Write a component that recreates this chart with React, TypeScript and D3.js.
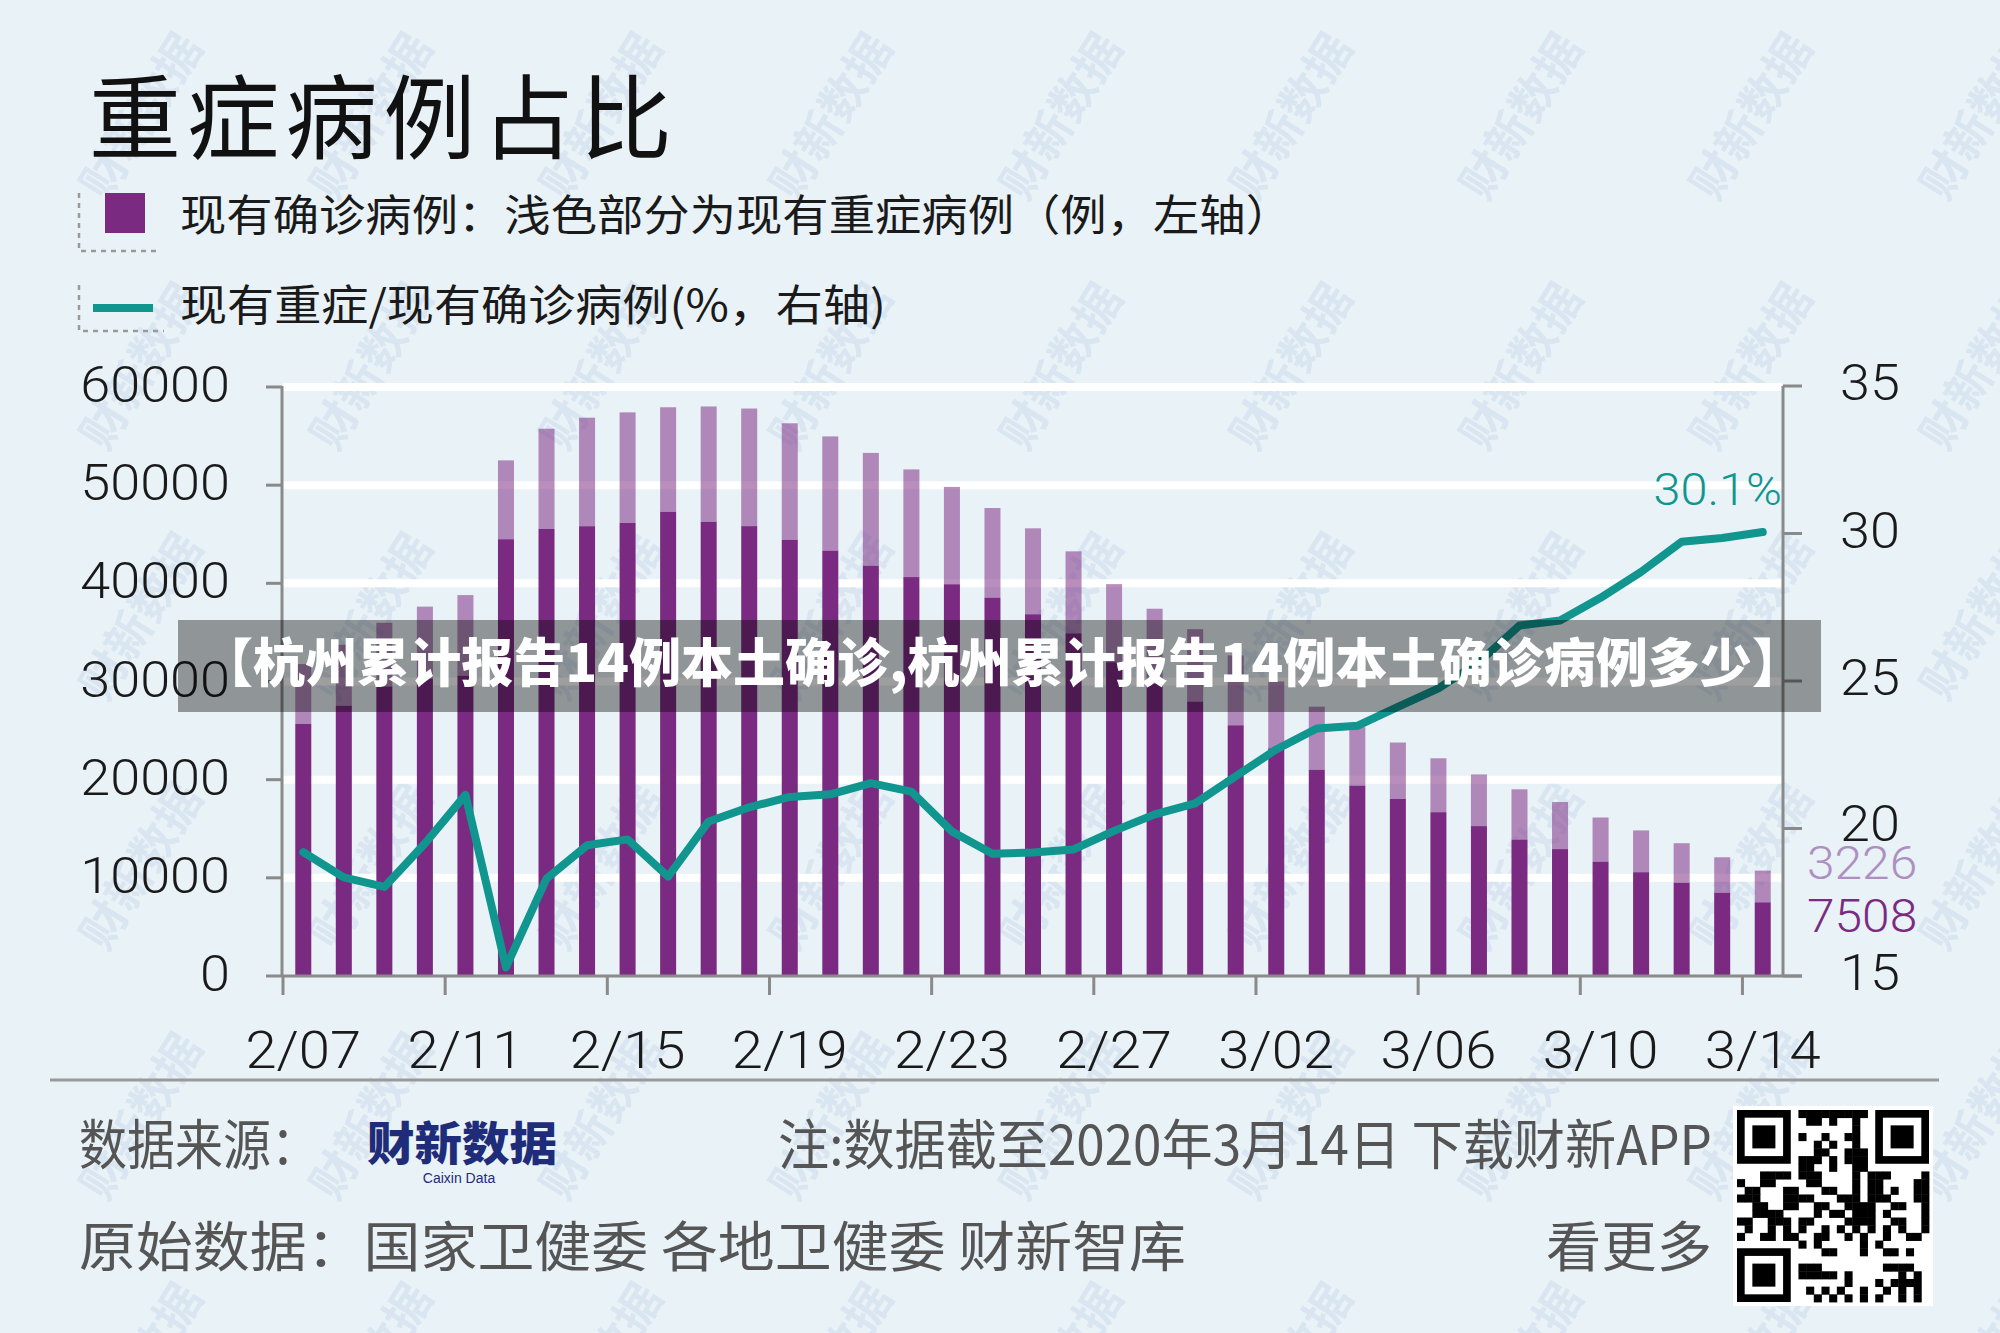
import React from 'react';
import * as d3 from 'd3';

// ---------- data ----------
const dates = [
  '2/07', '2/08', '2/09', '2/10', '2/11', '2/12', '2/13', '2/14', '2/15', '2/16',
  '2/17', '2/18', '2/19', '2/20', '2/21', '2/22', '2/23', '2/24', '2/25', '2/26',
  '2/27', '2/28', '2/29', '3/01', '3/02', '3/03', '3/04', '3/05', '3/06', '3/07',
  '3/08', '3/09', '3/10', '3/11', '3/12', '3/13', '3/14',
];
// 现有确诊病例 (total bar height)
const existing = [
  31774, 33738, 35982, 37626, 38800, 52526, 55748, 56873, 57416, 57934,
  58016, 57805, 56303, 54965, 53284, 51606, 49824, 47672, 45604, 43258,
  39919, 37414, 35329, 32652, 30004, 27433, 25352, 23784, 22177, 20533,
  19016, 17721, 16145, 14831, 13526, 12094, 10734,
];
// 现有重症病例 (light top part)
const severe = [
  6101, 6188, 6484, 7333, 8204, 8030, 10204, 11053, 11272, 10644,
  11741, 11977, 11864, 11633, 11477, 10968, 9915, 9126, 8752, 8346,
  7952, 7664, 7365, 7110, 6806, 6416, 5952, 5737, 5489, 5264,
  5111, 4794, 4492, 4257, 4020, 3610, 3226,
];
// 现有重症/现有确诊病例 (%)
const ratio = [
  19.2, 18.34, 18.02, 19.49, 21.14, 15.29, 18.3, 19.43, 19.63, 18.37,
  20.24, 20.72, 21.07, 21.16, 21.54, 21.25, 19.9, 19.14, 19.19, 19.29,
  19.92, 20.48, 20.85, 21.77, 22.68, 23.39, 23.48, 24.12, 24.75, 25.64,
  26.88, 27.05, 27.82, 28.7, 29.72, 29.85, 30.05,
];
const leftTicks = [0, 10000, 20000, 30000, 40000, 50000, 60000];
const rightTicks = [15, 20, 25, 30, 35];
const xTickLabels = ['2/07', '2/11', '2/15', '2/19', '2/23', '2/27', '3/02', '3/06', '3/10', '3/14'];
const endRatioLabel = '30.1%';

// ---------- style ----------
const W = 2000;
const H = 1333;
const BG = '#e9f2f6';
const DARK = '#7b2a82';
const LIGHT = 'rgba(123,42,130,0.53)';
const LIGHT_TXT = '#ae8fc2';
const TEAL = '#10958f';
const AXIS = '#8a8a8a';
const NUM_FONT = "Roboto, 'Liberation Sans', sans-serif";
const CJK_FONT = "'Noto Sans CJK SC', 'Noto Sans', sans-serif";
const NSX = 1.08;

function NumText({ x, y, anchor = 'start', fill = '#1a1a1a', size = 50, children }: any) {
  return (
    <text
      transform={`translate(${x},${y}) scale(${NSX},1)`}
      textAnchor={anchor}
      fontFamily={NUM_FONT}
      fontWeight={300}
      fontSize={size}
      fill={fill}
    >
      {children}
    </text>
  );
}

function CjkText({ x, y, size, len, fill = '#1a1a1a', weight = 400, adjust = 'spacingAndGlyphs', children }: any) {
  return (
    <text
      x={x}
      y={y}
      fontFamily={CJK_FONT}
      fontSize={size}
      fontWeight={weight}
      fill={fill}
      textLength={len}
      lengthAdjust={adjust}
    >
      {children}
    </text>
  );
}

function QR({ x0, y0, size }: any) {
  const n = 25;
  const m = size / n;
  const cells: any[] = [];
  const inFinder = (r: number, c: number) =>
    (r < 8 && c < 8) || (r < 8 && c >= n - 8) || (r >= n - 8 && c < 8);
  for (let r = 0; r < n; r++) {
    for (let c = 0; c < n; c++) {
      if (inFinder(r, c)) continue;
      const h = (r * 131 + c * 71 + r * c * 29 + ((r ^ c) * 13)) % 7;
      if (h < 3 || (r === 6 && c % 2 === 0) || (c === 6 && r % 2 === 0)) {
        cells.push(<rect key={`${r}-${c}`} x={x0 + c * m} y={y0 + r * m} width={m + 0.4} height={m + 0.4} fill="#000" />);
      }
    }
  }
  const finder = (fx: number, fy: number, k: string) => (
    <g key={k}>
      <rect x={x0 + fx * m} y={y0 + fy * m} width={7 * m} height={7 * m} fill="#000" />
      <rect x={x0 + (fx + 1) * m} y={y0 + (fy + 1) * m} width={5 * m} height={5 * m} fill="#fff" />
      <rect x={x0 + (fx + 2) * m} y={y0 + (fy + 2) * m} width={3 * m} height={3 * m} fill="#000" />
    </g>
  );
  return (
    <g>
      <rect x={x0 - 4} y={y0 - 4} width={size + 8} height={size + 8} fill="#fff" />
      {cells}
      {finder(0, 0, 'a')}
      {finder(n - 7, 0, 'b')}
      {finder(0, n - 7, 'c')}
    </g>
  );
}

export default function App() {
  const x = d3
    .scaleBand<string>()
    .domain(dates)
    .range([283, 1783])
    .paddingInner(0.605)
    .paddingOuter(0.3025);
  const step = x.step();
  const bw = x.bandwidth();
  const cx = (d: string) => (x(d) as number) + bw / 2;

  const yL = d3.scaleLinear().domain([0, 60000]).range([976, 387]);
  const yR = d3.scaleLinear().domain([15, 35]).range([976, 386]);

  const rows = dates.map((d, i) => ({ date: d, base: existing[i] - severe[i], top: severe[i] }));
  const stacked = d3.stack<any>().keys(['base', 'top'])(rows);

  const linePath = d3
    .line<number>()
    .x((_, i) => cx(dates[i]))
    .y((v) => yR(v))
    .curve(d3.curveLinear)(ratio) as string;

  const last = dates.length - 1;

  return (
    <svg
      width={W}
      height={H}
      viewBox={`0 0 ${W} ${H}`}
      style={{ position: 'absolute', left: 0, top: 0, display: 'block' }}
    >
      <defs>
        <pattern id="wm" width={230} height={250} patternUnits="userSpaceOnUse" patternTransform="translate(40,0)">
          <text
            transform="translate(115,125) rotate(-58)"
            textAnchor="middle"
            fontFamily={CJK_FONT}
            fontWeight={700}
            fontSize={46}
            fill="#8fb3d8"
            opacity={0.18}
          >
            财新数据
          </text>
        </pattern>
      </defs>
      <rect x={0} y={0} width={W} height={H} fill={BG} />
      <rect x={0} y={0} width={W} height={H} fill="url(#wm)" />

      {/* title */}
      <CjkText x={89} y={152} size={92} len={583} fill="#111" adjust="spacing">
        重症病例占比
      </CjkText>

      {/* legend */}
      <g stroke="#9a9a9a" strokeWidth={2.5} strokeDasharray="5,5" fill="none">
        <path d="M79,193 V251 H158" />
        <path d="M79,285 V331 H164" />
      </g>
      <rect x={105} y={193} width={40} height={40} fill={DARK} />
      <rect x={93} y={304} width={60} height={8} fill={TEAL} />
      <CjkText x={180} y={231} size={43} len={1112}>
        现有确诊病例：浅色部分为现有重症病例（例，左轴）
      </CjkText>
      <CjkText x={180} y={321} size={43} len={706}>
        现有重症/现有确诊病例(%，右轴)
      </CjkText>

      {/* gridlines */}
      {leftTicks
        .filter((t) => t > 0)
        .map((t) => (
          <line key={t} x1={283} x2={1782} y1={yL(t)} y2={yL(t)} stroke="#ffffff" strokeWidth={8} />
        ))}

      {/* bars */}
      {stacked.map((layer, li) => (
        <g key={li} fill={li === 0 ? DARK : LIGHT}>
          {layer.map((seg, i) => (
            <rect
              key={i}
              x={x(dates[i])}
              width={bw}
              y={yL(seg[1])}
              height={yL(seg[0]) - yL(seg[1])}
            />
          ))}
        </g>
      ))}

      {/* axes */}
      <g stroke={AXIS} strokeWidth={3} fill="none">
        <line x1={282} x2={282} y1={386} y2={976} />
        <line x1={282} x2={1802} y1={976} y2={976} />
        <line x1={1783} x2={1783} y1={386} y2={976} />
        {leftTicks.map((t) => (
          <line key={'l' + t} x1={266} x2={282} y1={yL(t)} y2={yL(t)} />
        ))}
        {rightTicks.map((t) => (
          <line key={'r' + t} x1={1783} x2={1802} y1={yR(t)} y2={yR(t)} />
        ))}
        {xTickLabels.map((d) => {
          const tx = cx(d) - step / 2;
          return <line key={'x' + d} x1={tx} x2={tx} y1={976} y2={995} />;
        })}
      </g>

      {leftTicks.map((t) => (
        <NumText key={'lt' + t} x={230} y={yL(t) + 15} anchor="end">
          {String(t)}
        </NumText>
      ))}
      {rightTicks.map((t) => (
        <NumText key={'rt' + t} x={1840} y={yR(t) + (t === 20 ? 12 : 14)}>
          {String(t)}
        </NumText>
      ))}
      {xTickLabels.map((d) => (
        <NumText key={'xt' + d} x={cx(d)} y={1068} anchor="middle" size={52}>
          {d}
        </NumText>
      ))}

      {/* ratio line */}
      <path d={linePath} fill="none" stroke={TEAL} strokeWidth={8} strokeLinejoin="round" strokeLinecap="round" />

      {/* end labels */}
      <NumText x={1782} y={505} anchor="end" fill={TEAL} size={45}>
        {endRatioLabel}
      </NumText>
      <NumText x={1807} y={879} fill={LIGHT_TXT} size={46}>
        {String(severe[last])}
      </NumText>
      <NumText x={1807} y={932} fill={DARK} size={46}>
        {String(existing[last] - severe[last])}
      </NumText>

      {/* overlay banner */}
      <rect x={178} y={620} width={1643} height={92} fill="rgba(0,0,0,0.38)" />
      <CjkText x={201} y={682} size={52} len={1603} fill="#ffffff" weight={900}>
        【杭州累计报告14例本土确诊,杭州累计报告14例本土确诊病例多少】
      </CjkText>

      {/* footer */}
      <line x1={50} x2={1939} y1={1080} y2={1080} stroke="#9a9a9a" strokeWidth={3} />
      <CjkText x={79} y={1165} size={54} len={240} fill="#555">
        数据来源：
      </CjkText>
      <CjkText x={367} y={1160} size={46} len={190} fill="#1f2c7a" weight={900}>
        财新数据
      </CjkText>
      <text x={459} y={1183} textAnchor="middle" fontFamily="'Liberation Sans', sans-serif" fontSize={14} fill="#1f2c7a">
        Caixin Data
      </text>
      <CjkText x={778} y={1165} size={54} len={934} fill="#555">
        注:数据截至2020年3月14日 下载财新APP
      </CjkText>
      <CjkText x={79} y={1267} size={54} len={1107} fill="#555">
        原始数据：国家卫健委 各地卫健委 财新智库
      </CjkText>
      <CjkText x={1546} y={1267} size={54} len={166} fill="#555">
        看更多
      </CjkText>
      <QR x0={1737} y0={1110} size={192} />
    </svg>
  );
}
